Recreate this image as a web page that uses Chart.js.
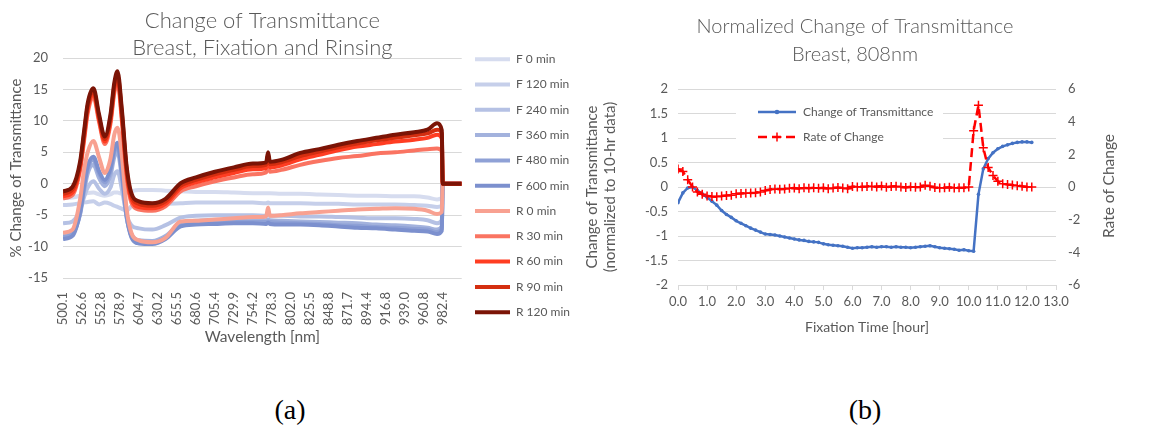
<!DOCTYPE html>
<html>
<head>
<meta charset="utf-8">
<script src="https://cdn.jsdelivr.net/npm/chart.js@4.4.0/dist/chart.umd.min.js"></script>
<style>
  body { margin: 0; background: #fff; }
  #wrap { position: relative; width: 1159px; height: 432px; overflow: hidden; }
  #spec { position: absolute; left: 0; top: 0; }
  #time { position: absolute; left: 560px; top: 0; }
  .cap { position: absolute; top: 394px; width: 60px; text-align: center; font: 28px "Liberation Serif", "Times New Roman", serif; color: #000; }
  #rateTitle { position: absolute; left: 1048px; top: 177px; width: 120px; text-align: center; transform: rotate(-90deg); font: 15.5px Lato, sans-serif; color: #595959; }
</style>
</head>
<body>
<div id="wrap">
  <canvas id="spec" width="580" height="360"></canvas>
  <canvas id="time" width="599" height="360"></canvas>
  <div id="rateTitle">Rate of Change</div>
  <div class="cap" style="left:260px">(a)</div>
  <div class="cap" style="left:835px">(b)</div>
</div>
<script>
// ---------- (a) spectra ----------
const wavelengthTicks = ["500.1", "526.6", "552.8", "578.9", "604.7", "630.2", "655.5", "680.6", "705.4", "729.9",
  "754.2", "778.3", "802.0", "825.5", "848.8", "871.7", "894.4", "916.8", "939.0", "960.8", "982.4"];
// detector position, counted in label steps (0 = 500.1 nm, 20 = 982.4 nm)
const specPos = [0, 0.5, 0.9, 1.1, 1.3, 1.6, 1.9, 2.2, 2.5, 2.7, 2.87, 3.1, 3.35, 3.6, 4.0, 4.7, 5.4, 6.2, 7, 8,
  9, 10, 10.7, 10.8, 10.9, 11.5, 12.5, 13.5, 14.5, 15.5, 16.5, 17.5, 18.5, 19.2, 19.7, 19.95, 20, 21];
const specNames = ["F 0 min", "F 120 min", "F 240 min", "F 360 min", "F 480 min", "F 600 min",
  "R 0 min", "R 30 min", "R 60 min", "R 90 min", "R 120 min"];

const f0 = [-2.3, -2.2, -1.9, -1.7, -1.5, -1.4, -1.7, -1.9, -1.7, -1.4, -1.4, -1.6, -1.5, -1.2, -1.0, -1.0, -1.1, -1.2, -1.3, -1.3,
  -1.4, -1.5, -1.5, -1.5, -1.5, -1.6, -1.6, -1.7, -1.8, -1.9, -1.9, -2.0, -2.0, -2.2, -2.5, -2.3, 0, 0];
const f120 = [-3.4, -3.3, -3.1, -3.0, -2.9, -2.8, -3.3, -3.0, -3.2, -3.5, -3.7, -4.0, -4.3, -3.6, -3.3, -3.3, -3.2, -3.1, -3.0, -3.0,
  -3.0, -3.0, -3.1, -3.0, -3.1, -3.1, -3.1, -3.2, -3.2, -3.3, -3.3, -3.3, -3.4, -3.5, -3.7, -3.5, 0, 0];
const f240 = [-6.3, -6.0, -4.2, -2.2, -0.6, 0.4, -0.8, -1.6, -0.6, 1.4, 2.0, -0.9, -5.0, -6.6, -7.1, -7.3, -6.6, -5.4, -5.1, -5.0,
  -5.0, -5.0, -5.1, -5.0, -5.1, -5.1, -5.2, -5.2, -5.3, -5.4, -5.5, -5.5, -5.6, -5.8, -6.3, -5.8, 0, 0];
const f360 = [-8.2, -7.7, -4.9, -1.4, 1.6, 3.0, 0.9, -0.4, 1.3, 4.2, 5.0, 0.9, -5.4, -8.0, -9.0, -9.1, -8.3, -6.3, -5.9, -5.8,
  -5.7, -5.7, -5.8, -5.7, -5.8, -5.9, -6.0, -6.1, -6.2, -6.3, -6.5, -6.6, -6.8, -7.0, -7.3, -6.8, 0, 0];
const f480 = [-8.5, -8.0, -4.7, -0.9, 2.3, 3.8, 1.6, 0.2, 2.0, 5.0, 6.0, 1.5, -5.2, -8.3, -9.3, -9.4, -8.6, -6.6, -6.2, -6.1,
  -6.0, -6.1, -6.1, -6.0, -6.1, -6.2, -6.3, -6.4, -6.6, -6.7, -6.9, -7.0, -7.2, -7.3, -7.7, -7.2, 0, 0];
const f600 = [-8.8, -8.3, -4.5, -0.5, 2.8, 4.3, 2.0, 0.6, 2.5, 5.5, 6.5, 2.0, -5.0, -8.5, -9.5, -9.6, -8.8, -6.8, -6.5, -6.4,
  -6.3, -6.3, -6.4, -6.2, -6.4, -6.5, -6.5, -6.6, -6.8, -7.0, -7.1, -7.3, -7.5, -7.6, -8.0, -7.5, 0, 0];
const r0 = [-7.8, -7.3, -2.5, 2.0, 5.0, 6.8, 4.2, 1.7, 4.0, 7.8, 8.9, 4.5, -4.0, -7.8, -9.0, -9.3, -8.6, -6.0, -5.9, -5.7,
  -5.5, -5.3, -5.2, -3.8, -5.1, -5.0, -4.7, -4.5, -4.3, -4.1, -4.0, -3.9, -4.0, -4.3, -4.8, -4.5, 0, 0];
const r30 = [-2.3, -1.8, 2.2, 6.6, 11.2, 13.9, 9.8, 6.3, 9.5, 14.4, 16.2, 10.0, 1.2, -3.0, -4.1, -4.3, -3.6, -1.2, -0.4, 0.4,
  1.0, 1.5, 1.8, 3.3, 1.9, 2.2, 3.0, 3.6, 4.1, 4.4, 4.8, 5.0, 5.3, 5.5, 5.6, 5.2, 0, 0];
const r60 = [-2.0, -1.4, 2.6, 7.1, 11.8, 14.4, 10.2, 6.7, 10.0, 15.0, 16.8, 10.6, 1.8, -2.5, -3.7, -3.9, -3.2, -0.7, 0.2, 1.0,
  1.7, 2.3, 2.5, 4.1, 2.6, 2.9, 3.9, 4.6, 5.3, 5.9, 6.3, 6.7, 7.0, 7.3, 7.8, 7.2, 0, 0];
const r90 = [-1.6, -0.9, 3.0, 7.6, 12.3, 14.8, 10.6, 7.1, 10.5, 15.5, 17.3, 11.2, 2.3, -2.0, -3.2, -3.5, -2.8, -0.3, 0.6, 1.5,
  2.2, 2.8, 3.0, 4.6, 3.1, 3.4, 4.4, 5.1, 5.8, 6.4, 6.9, 7.3, 7.7, 8.0, 8.6, 8.0, 0, 0];
const r120 = [-1.2, -0.5, 3.5, 8.1, 12.8, 15.2, 11.0, 7.5, 11.0, 16.0, 17.9, 11.8, 2.8, -1.5, -2.8, -3.1, -2.4, 0.1, 1.0, 1.9,
  2.6, 3.2, 3.4, 5.0, 3.5, 3.8, 4.9, 5.5, 6.2, 6.8, 7.3, 7.8, 8.2, 8.6, 9.6, 8.5, 0, 0];

// ---------- (b) time course at 808 nm ----------
const fixMinutes = [0, 10, 20, 30, 40, 50, 60, 70, 80, 90, 100, 110, 120, 130, 140, 150, 160, 170, 180, 190,
  200, 210, 220, 230, 240, 250, 260, 270, 280, 290, 300, 310, 320, 330, 340, 350, 360, 370, 380, 390,
  400, 410, 420, 430, 440, 450, 460, 470, 480, 490, 500, 510, 520, 530, 540, 550, 560, 570, 580, 590,
  600, 610, 620, 630, 640, 650, 660, 670, 680, 690, 700, 710, 720, 730];
const transChange = [-0.32, -0.12, -0.02, 0.00, -0.07, -0.14, -0.21, -0.29, -0.37, -0.48, -0.56, -0.62, -0.69, -0.74, -0.79, -0.84, -0.88, -0.92, -0.96, -0.97,
  -0.98, -1.00, -1.02, -1.04, -1.06, -1.08, -1.09, -1.11, -1.12, -1.13, -1.16, -1.18, -1.19, -1.20, -1.21, -1.23, -1.25, -1.24, -1.24, -1.23,
  -1.22, -1.23, -1.22, -1.22, -1.23, -1.22, -1.23, -1.23, -1.24, -1.23, -1.22, -1.21, -1.20, -1.22, -1.24, -1.25, -1.26, -1.27, -1.29, -1.28,
  -1.30, -1.31, -0.15, 0.37, 0.58, 0.70, 0.78, 0.83, 0.86, 0.89, 0.91, 0.92, 0.92, 0.91];
const rateChange = [1.10, 0.95, 0.45, 0.00, -0.30, -0.45, -0.55, -0.58, -0.60, -0.55, -0.52, -0.50, -0.42, -0.40, -0.38, -0.36, -0.35, -0.30, -0.22, -0.15,
  -0.12, -0.14, -0.12, -0.08, -0.06, -0.10, -0.05, -0.08, -0.04, -0.08, -0.05, -0.10, -0.06, -0.03, -0.06, -0.10, 0.03, 0.00, 0.02, 0.03,
  0.05, 0.00, 0.06, -0.02, 0.03, 0.04, 0.00, -0.03, 0.02, -0.02, 0.00, 0.10, 0.04, -0.03, -0.06, -0.05, -0.02, -0.06, -0.04, -0.05,
  0.00, 3.45, 5.00, 2.40, 1.20, 0.70, 0.35, 0.20, 0.15, 0.12, 0.08, 0.05, 0.00, 0.00];

const GREY = "#595959";
const GRID = "#D9D9D9";
Chart.defaults.font.family = "Lato, 'Noto Sans', sans-serif";
Chart.defaults.color = GREY;

const specSeries = [f0, f120, f240, f360, f480, f600, r0, r30, r60, r90, r120];
const specColors = ["#D6DCEF", "#C6CFEA", "#B5C1E4", "#A3B2DD", "#8FA1D6", "#7C90CE",
  "#F8A191", "#FA7462", "#FF3D22", "#D42E10", "#7B1406"];

new Chart(document.getElementById("spec"), {
  type: "line",
  data: {
    datasets: specSeries.map((vals, i) => ({
      label: specNames[i],
      data: vals.map((y, k) => ({ x: specPos[k], y })),
      borderColor: specColors[i],
      backgroundColor: specColors[i],
      borderWidth: 4,
      pointRadius: 0,
      cubicInterpolationMode: "monotone",
      order: specSeries.length - i,
    })),
  },
  options: {
    responsive: false,
    animation: false,
    layout: { padding: { left: 3, right: 0, top: 0, bottom: 10 } },
    plugins: {
      title: {
        display: true,
        fullSize: false,
        text: ["Change of Transmittance", "Breast, Fixation and Rinsing"],
        color: GREY,
        font: { size: 22, weight: 300, lineHeight: 1.25 },
        padding: { top: 7, bottom: -4 },
      },
      legend: {
        position: "right",
        title: { display: true, text: "", padding: { top: 7, bottom: 0 } },
        labels: {
          boxWidth: 35,
          boxHeight: 4,
          padding: 13.3,
          color: GREY,
          font: { size: 12 },
          sort: (a, b) => a.datasetIndex - b.datasetIndex,
          generateLabels: (chart) =>
            Chart.defaults.plugins.legend.labels.generateLabels(chart).map((l) => Object.assign(l, { lineWidth: 0 })),
        },
      },
      tooltip: { enabled: false },
    },
    scales: {
      x: {
        type: "linear",
        min: 0,
        max: 21,
        grid: { display: false },
        border: { display: false },
        ticks: {
          stepSize: 1,
          autoSkip: false,
          minRotation: 90,
          maxRotation: 90,
          padding: 6,
          font: { size: 13 },
          callback: (v) => wavelengthTicks[v] ?? "",
        },
        title: { display: true, text: "Wavelength [nm]", font: { size: 15.5 } },
        afterFit: (s) => { s.height = 72; },
      },
      y: {
        min: -15,
        max: 20,
        ticks: { stepSize: 5, padding: 15, font: { size: 13 } },
        grid: { color: GRID, drawTicks: false },
        border: { display: false },
        title: { display: true, text: "% Change of Transmittance", font: { size: 15 } },
        afterFit: (s) => { s.width = 60; },
      },
    },
  },
});

// legend drawn inside the plot, over a white patch, like the source
const inPlotLegend = {
  id: "inPlotLegend",
  afterDraw(chart) {
    const { ctx, chartArea } = chart;
    const left = chartArea.left, top = chartArea.top;
    ctx.save();
    ctx.fillStyle = "#fff";
    ctx.fillRect(left + 58, top + 12, 207, 48);
    chart.data.datasets.forEach((ds, i) => {
      const y = top + 23 + i * 25;
      const x1 = left + 80, x2 = left + 118, mx = (x1 + x2) / 2;
      ctx.strokeStyle = ds.borderColor;
      ctx.lineWidth = ds.borderWidth;
      ctx.setLineDash(ds.borderDash || []);
      ctx.beginPath(); ctx.moveTo(x1, y); ctx.lineTo(x2, y); ctx.stroke();
      ctx.setLineDash([]);
      if (ds.pointStyle === "cross") {
        ctx.lineWidth = ds.pointBorderWidth;
        ctx.beginPath();
        ctx.moveTo(mx - ds.pointRadius, y); ctx.lineTo(mx + ds.pointRadius, y);
        ctx.moveTo(mx, y - ds.pointRadius); ctx.lineTo(mx, y + ds.pointRadius);
        ctx.stroke();
      } else {
        ctx.fillStyle = ds.borderColor;
        ctx.beginPath(); ctx.arc(mx, y, ds.pointRadius + 0.5, 0, Math.PI * 2); ctx.fill();
      }
      ctx.fillStyle = GREY;
      ctx.font = "12px Lato, sans-serif";
      ctx.textBaseline = "middle";
      ctx.fillText(ds.label, left + 125, y);
    });
    ctx.restore();
  },
};

new Chart(document.getElementById("time"), {
  type: "line",
  data: {
    datasets: [
      {
        label: "Change of Transmittance",
        data: fixMinutes.map((m, k) => ({ x: m / 60, y: transChange[k] })),
        yAxisID: "y",
        borderColor: "#4472C4",
        backgroundColor: "#4472C4",
        borderWidth: 2.5,
        pointRadius: 1.8,
        pointBorderWidth: 0,
        order: 2,
      },
      {
        label: "Rate of Change",
        data: fixMinutes.map((m, k) => ({ x: m / 60, y: rateChange[k] })),
        yAxisID: "y2",
        borderColor: "#FF0000",
        backgroundColor: "#FF0000",
        borderWidth: 2.5,
        borderDash: [9, 5],
        pointStyle: "cross",
        pointRadius: 4.5,
        pointBorderWidth: 1.5,
        pointBorderColor: "#FF0000",
        order: 1,
      },
    ],
  },
  options: {
    responsive: false,
    animation: false,
    layout: { padding: { left: 20, right: 29, top: 0, bottom: 20 } },
    plugins: {
      title: {
        display: true,
        text: ["Normalized Change of Transmittance", "Breast, 808nm"],
        color: GREY,
        font: { size: 20, weight: 300, lineHeight: 1.4 },
        padding: { top: 13, bottom: 20 },
      },
      legend: { display: false },
      tooltip: { enabled: false },
    },
    scales: {
      x: {
        type: "linear",
        min: 0,
        max: 13,
        ticks: { stepSize: 1, padding: 4, maxRotation: 0, font: { size: 13 }, callback: (v) => v.toFixed(1) },
        grid: { drawOnChartArea: false, drawTicks: true, tickLength: 5, color: GRID },
        border: { display: true, color: GRID },
        title: { display: true, text: "Fixation Time [hour]", font: { size: 14 } },
        afterFit: (s) => { s.height = 55; },
      },
      y: {
        position: "left",
        min: -2,
        max: 2,
        ticks: { stepSize: 0.5, padding: 10, font: { size: 13 }, callback: (v) => String(v) },
        grid: { color: GRID, drawTicks: false },
        border: { display: false },
        title: {
          display: true,
          text: ["Change of Transmittance", "(normalized to 10-hr data)"],
          font: { size: 15, lineHeight: 1.15 },
          padding: { top: 4, bottom: 4 },
        },
        afterFit: (s) => { s.width = 98; },
      },
      y2: {
        position: "right",
        min: -6,
        max: 6,
        ticks: { stepSize: 2, padding: 12, font: { size: 13 } },
        grid: { drawOnChartArea: false, drawTicks: false },
        border: { display: false },
        afterFit: (s) => { s.width = 74; },
      },
    },
  },
  plugins: [inPlotLegend],
});
</script>
</body>
</html>
